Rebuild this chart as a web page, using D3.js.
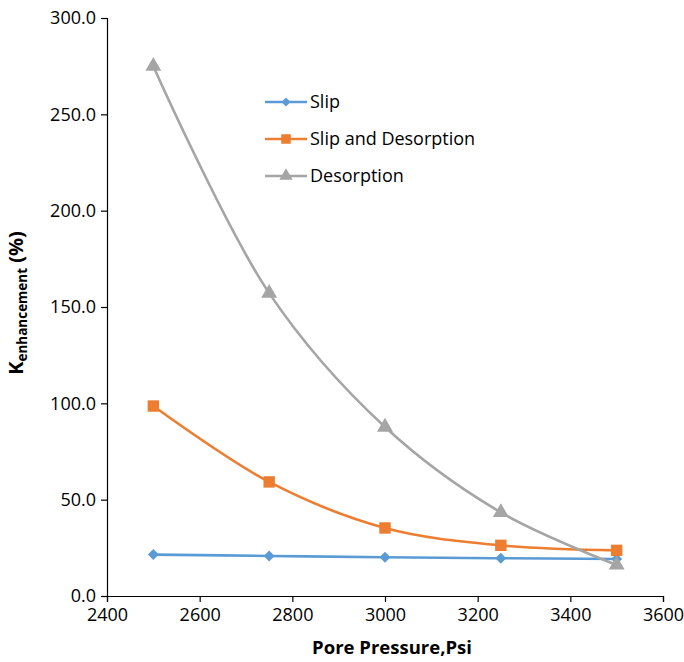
<!DOCTYPE html>
<html>
<head>
<meta charset="utf-8">
<script src="https://cdn.jsdelivr.net/npm/d3@7"></script>
<style>
  body { margin: 0; background: #fff; }
  svg { font-family: "Open Sans", "Liberation Sans", sans-serif; }
</style>
</head>
<body>
<svg id="chart" width="684" height="662"></svg>
<script>
// data
let pressures = [2500, 2750, 3000, 3250, 3500];
let slip = [21.5, 20.8, 20.1, 19.6, 19.2];
let slipDesorption = [98.6, 59.2, 35.3, 26.3, 23.7];
let desorption = [275.0, 157.2, 87.7, 43.4, 16.1];
let seriesNames = ["Slip", "Slip and Desorption", "Desorption"];
let xTicks = [2400, 2600, 2800, 3000, 3200, 3400, 3600];
let yTicks = [0, 50, 100, 150, 200, 250, 300];

let colors = ["#5B9BD5", "#ED7D31", "#A5A5A5"];
// slip uses a square turned 45 degrees (Excel-style diamond)
let symbols = [d3.symbolSquare, d3.symbolSquare, d3.symbolTriangle];
let symbolRotate = [45, 0, 0];
let symbolSizes = [60, 130, 110];

let svg = d3.select('#chart');
let plotLeft = 107, plotRight = 663, plotTop = 18, plotBottom = 596;

let xscale = d3.scaleLinear().domain([2400, 3600]).range([plotLeft, plotRight]);
let yscale = d3.scaleLinear().domain([0, 300]).range([plotBottom, plotTop]);

let xaxis = d3.axisBottom(xscale).tickValues(xTicks).tickSize(6).tickPadding(6)
              .tickFormat(d3.format('d'));
let yaxis = d3.axisLeft(yscale).tickValues(yTicks).tickSize(6).tickPadding(5)
              .tickFormat(d3.format('.1f'));

svg.append('g')
   .attr('transform', `translate(0, ${plotBottom})`)
   .call(xaxis)
   .call(g => g.selectAll('text').attr('font-size', 18).attr('fill', '#000')
               .attr('font-family', '"Open Sans", sans-serif'));

svg.append('g')
   .attr('transform', `translate(${plotLeft}, 0)`)
   .call(yaxis)
   .call(g => g.selectAll('text').attr('font-size', 18).attr('fill', '#000')
               .attr('font-family', '"Open Sans", sans-serif'));

svg.selectAll('.domain, .tick line').attr('stroke', '#000').attr('stroke-width', 1.2);

// axis titles
svg.append('text')
   .attr('x', 392).attr('y', 654)
   .attr('text-anchor', 'middle')
   .attr('font-size', 18.5).attr('font-weight', 'bold')
   .text('Pore Pressure,Psi');

let ytitle = svg.append('text')
   .attr('transform', 'translate(23, 303) rotate(-90)')
   .attr('text-anchor', 'middle')
   .attr('font-weight', 'bold')
   .attr('font-size', 20);
ytitle.append('tspan').text('K');
ytitle.append('tspan').attr('font-size', 13.5).attr('dy', 4).text('enhancement');
ytitle.append('tspan').attr('dy', -4).text(' (%)');

// series
let allSeries = [slip, slipDesorption, desorption];
let line = d3.line()
             .x((d, i) => xscale(pressures[i]))
             .y(d => yscale(d))
             .curve(d3.curveCatmullRom.alpha(0.5));

allSeries.forEach((vals, k) => {
  svg.append('path')
     .datum(vals)
     .attr('d', line)
     .attr('fill', 'none')
     .attr('stroke', colors[k])
     .attr('stroke-width', 2.6);
});

allSeries.forEach((vals, k) => {
  svg.append('g').selectAll('path')
     .data(vals)
     .enter()
     .append('path')
     .attr('d', d3.symbol().type(symbols[k]).size(symbolSizes[k]))
     .attr('transform', (d, i) =>
        `translate(${xscale(pressures[i])}, ${yscale(d)}) rotate(${symbolRotate[k]})`)
     .attr('fill', colors[k]);
});

// legend
let legend = svg.append('g').attr('transform', 'translate(265, 102)');
seriesNames.forEach((name, k) => {
  let row = legend.append('g').attr('transform', `translate(0, ${k * 37})`);
  row.append('line').attr('x1', 0).attr('x2', 42).attr('y1', 0).attr('y2', 0)
     .attr('stroke', colors[k]).attr('stroke-width', 2.6);
  row.append('path')
     .attr('d', d3.symbol().type(symbols[k]).size(symbolSizes[k] * 0.7))
     .attr('transform', `translate(21, 0) rotate(${symbolRotate[k]})`)
     .attr('fill', colors[k]);
  row.append('text').attr('x', 45).attr('y', 6)
     .attr('font-size', 18)
     .text(name);
});
</script>
</body>
</html>
